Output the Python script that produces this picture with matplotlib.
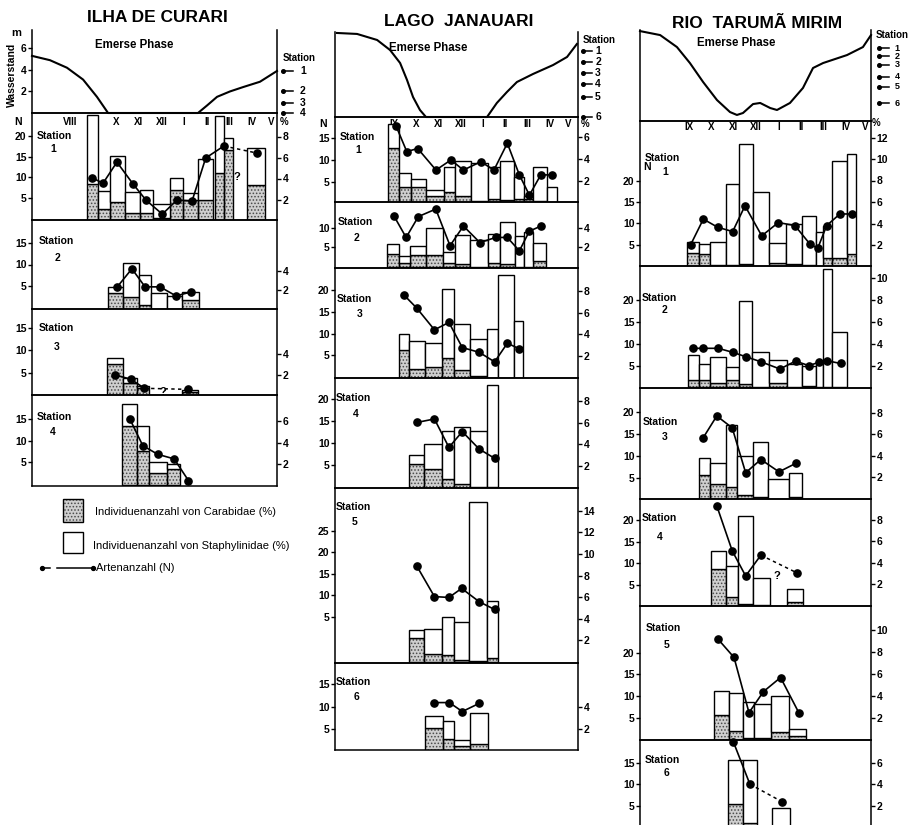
import matplotlib
matplotlib.use("Agg")
import matplotlib.pyplot as plt
from matplotlib.patches import Rectangle
from matplotlib.lines import Line2D
from matplotlib.transforms import blended_transform_factory as blend

plt.rcParams['font.family'] = ['Liberation Sans', 'DejaVu Sans']
plt.rcParams['hatch.linewidth'] = 0.7

# ------------------------------------------------------------------ data
# months counted from August (VIII = 0)
month_names = ['VIII', 'IX', 'X', 'XI', 'XII', 'I', 'II', 'III', 'IV', 'V']

# water level (m) over the season
ic_wl_t = [-1.70, -0.91, -0.16, 0.55, 1.16, 1.65, 5.61, 6.01, 6.45, 7.02, 7.59, 8.34, 9.09]
ic_wl_m = [5.3, 4.9, 4.2, 3.1, 1.5, 0.0, 0.0, 0.7, 1.5, 2.0, 2.4, 2.9, 3.9]
lj_wl_t = [-1.54, -0.64, 0.26, 0.84, 1.29, 1.60, 1.87, 2.18, 2.45,
           5.19, 5.63, 6.08, 6.53, 7.25, 8.15, 8.78, 9.22]
lj_wl_m = [7.78, 7.69, 7.13, 6.2, 5.0, 3.43, 1.85, 0.65, 0.0,
           0.0, 1.3, 2.31, 3.24, 3.98, 4.81, 5.56, 6.76]
rt_wl_t = [-1.19, -0.29, 0.46, 1.04, 1.63, 2.25, 2.83, 3.14, 3.41, 3.86, 4.18,
           4.63, 4.93, 5.51, 6.09, 6.54, 6.99, 8.06, 8.77, 9.13]
rt_wl_m = [8.33, 7.96, 6.85, 5.37, 3.61, 1.94, 0.83, 0.56, 0.74, 1.57, 1.67,
           1.2, 1.02, 1.67, 3.06, 4.91, 5.37, 6.11, 6.85, 7.96]

# elevation of the sampling stations (m on the water-level scale)
ic_levels = [3.9, 2.0, 0.9, 0.0]
lj_levels = [6.1, 5.1, 4.1, 3.1, 1.85, 0.0]
rt_levels = [6.75, 6.0, 5.2, 4.1, 3.15, 1.65]

# ---- Ilha de Curari
ic1_t = [0.96, 1.47, 2.07, 2.73, 3.34, 4.00, 4.67, 5.28, 5.94, 6.56, 6.96, 8.17]
ic1_w = [0.48, 0.53, 0.66, 0.66, 0.57, 0.75, 0.57, 0.66, 0.66, 0.40, 0.40, 0.79]
ic1_car = [3.5, 1.1, 1.8, 0.7, 0.7, 0.2, 2.9, 2.0, 2.0, 4.5, 6.7, 3.4]
ic1_sta = [6.5, 1.7, 4.3, 2.0, 2.2, 1.4, 1.1, 0.6, 3.9, 5.5, 1.2, 3.5]
ic1_lt = [0.94, 1.43, 2.04, 2.75, 3.32, 4.04, 4.68, 5.35, 5.95, 6.75, 8.20]
ic1_n = [9.9, 8.6, 13.7, 8.4, 4.5, 1.1, 4.5, 4.3, 14.7, 17.6, 15.9]

ic2_t = [1.98, 2.66, 3.28, 3.89, 4.58, 5.28]
ic2_w = [0.66, 0.70, 0.53, 0.70, 0.66, 0.75]
ic2_car = [1.7, 1.25, 0.4, 0.0, 0.0, 0.9]
ic2_sta = [0.6, 3.55, 3.1, 1.7, 1.4, 0.9]
ic2_lt = [2.04, 2.70, 3.28, 3.94, 4.64, 5.30]
ic2_n = [4.7, 9.0, 4.8, 4.8, 2.7, 3.6]

ic3_t = [1.96, 2.62, 3.19, 5.26]
ic3_w = [0.70, 0.62, 0.53, 0.70]
ic3_car = [3.1, 1.2, 0.75, 0.3]
ic3_sta = [0.55, 0.5, 0.15, 0.2]
ic3_lt = [1.96, 2.65, 3.25, 5.19]
ic3_n = [4.45, 3.5, 1.45, 1.2]

ic4_t = [2.59, 3.19, 3.85, 4.53]
ic4_w = [0.66, 0.53, 0.79, 0.57]
ic4_car = [5.6, 3.2, 1.1, 1.5]
ic4_sta = [2.0, 2.4, 1.1, 0.5]
ic4_lt = [2.62, 3.18, 3.84, 4.56, 5.19]
ic4_n = [14.9, 8.85, 6.85, 5.8, 0.8]

# ---- Lago Janauari
lj1_t = [1.00, 1.51, 2.12, 2.86, 3.51, 4.11, 4.85, 5.50, 6.09, 6.62, 7.05, 7.57, 8.10]
lj1_w = [0.49, 0.54, 0.67, 0.81, 0.49, 0.72, 0.76, 0.54, 0.63, 0.45, 0.40, 0.63, 0.45]
lj1_car = [5.0, 1.5, 1.5, 0.6, 1.0, 0.6, 0.2, 0.4, 0.3, 0.4, 0.4, 0.2, 0.0]
lj1_sta = [2.2, 1.2, 0.7, 0.6, 2.3, 3.2, 3.4, 2.9, 3.5, 2.0, 0.2, 3.1, 1.5]
lj1_lt = [1.11, 1.59, 2.08, 2.90, 3.57, 4.13, 4.91, 5.50, 6.10, 6.64, 7.09, 7.60, 8.12]
lj1_n = [17.6, 11.8, 12.5, 7.6, 9.9, 7.6, 9.5, 7.6, 13.7, 6.5, 1.9, 6.5, 6.5]

lj2_t = [0.97, 1.49, 2.09, 2.83, 3.48, 4.09, 4.83, 5.50, 6.11, 6.65, 7.05, 7.54]
lj2_w = [0.54, 0.49, 0.72, 0.76, 0.54, 0.67, 0.81, 0.54, 0.67, 0.40, 0.40, 0.58]
lj2_car = [1.3, 0.4, 1.2, 1.2, 0.4, 0.3, 0.0, 0.4, 0.3, 0.0, 0.0, 0.6]
lj2_sta = [1.0, 0.7, 0.9, 2.8, 1.1, 3.0, 2.8, 3.0, 4.3, 3.2, 3.6, 1.8]
lj2_lt = [1.02, 1.56, 2.11, 2.89, 3.53, 4.13, 4.87, 5.58, 6.10, 6.64, 7.09, 7.61]
lj2_n = [12.9, 7.5, 12.8, 14.7, 5.4, 10.4, 6.2, 7.5, 7.5, 4.1, 9.1, 10.4]

lj3_t = [1.47, 2.05, 2.79, 3.44, 4.07, 4.81, 5.43, 6.04, 6.60]
lj3_w = [0.45, 0.72, 0.76, 0.54, 0.72, 0.76, 0.49, 0.72, 0.40]
lj3_car = [2.6, 0.8, 1.0, 1.8, 0.7, 0.2, 0.0, 0.0, 0.0]
lj3_sta = [1.4, 2.6, 2.2, 6.4, 4.3, 3.4, 4.5, 9.45, 5.2]
lj3_lt = [1.47, 2.04, 2.83, 3.48, 4.08, 4.84, 5.53, 6.10, 6.64]
lj3_n = [18.9, 15.9, 10.9, 12.6, 6.8, 5.7, 3.5, 7.8, 6.5]

lj4_t = [2.02, 2.77, 3.44, 4.07, 4.81, 5.43]
lj4_w = [0.67, 0.81, 0.54, 0.72, 0.76, 0.49]
lj4_car = [2.2, 1.7, 0.8, 0.4, 0.1, 0.1]
lj4_sta = [0.8, 2.3, 4.4, 5.2, 5.1, 9.35]
lj4_lt = [2.04, 2.83, 3.48, 4.08, 4.84, 5.53]
lj4_n = [14.7, 15.5, 9.0, 12.6, 8.6, 6.5]

lj5_t = [2.02, 2.77, 3.44, 4.04, 4.78, 5.43]
lj5_w = [0.67, 0.81, 0.54, 0.67, 0.81, 0.49]
lj5_car = [2.25, 0.75, 0.65, 0.2, 0.1, 0.4]
lj5_sta = [0.75, 2.35, 3.55, 3.5, 14.7, 5.25]
lj5_lt = [2.04, 2.83, 3.48, 4.05, 4.84, 5.53]
lj5_n = [16.8, 9.7, 9.5, 11.6, 8.5, 6.7]

lj6_t = [2.81, 3.46, 4.07, 4.83]
lj6_w = [0.81, 0.49, 0.72, 0.81]
lj6_car = [2.1, 1.1, 0.4, 0.6]
lj6_sta = [1.1, 1.6, 0.6, 2.9]
lj6_lt = [2.83, 3.50, 4.08, 4.83]
lj6_n = [10.9, 10.9, 8.9, 10.7]

# ---- Rio Tarumã Mirim
rt1_t = [1.18, 1.69, 2.29, 2.94, 3.54, 4.21, 4.95, 5.69, 6.36, 6.83, 7.18, 7.72, 8.25]
rt1_w = [0.54, 0.49, 0.71, 0.58, 0.63, 0.71, 0.76, 0.71, 0.63, 0.31, 0.40, 0.67, 0.40]
rt1_car = [1.3, 1.2, 0.1, 0.1, 0.2, 0.0, 0.3, 0.2, 0.1, 0.0, 0.75, 0.75, 1.2]
rt1_sta = [1.0, 0.9, 2.2, 7.6, 11.2, 6.9, 1.9, 3.8, 4.6, 3.2, 3.05, 9.05, 9.3]
rt1_lt = [1.07, 1.64, 2.28, 2.95, 3.50, 4.25, 4.99, 5.73, 6.40, 6.75, 7.15, 7.74, 8.29]
rt1_n = [5.0, 11.0, 9.1, 8.1, 14.1, 7.1, 10.2, 9.5, 5.2, 4.2, 9.5, 12.2, 12.2]

rt2_t = [1.20, 1.69, 2.29, 2.94, 3.52, 4.19, 4.97, 5.71, 6.36, 6.83, 7.18, 7.72]
rt2_w = [0.49, 0.49, 0.71, 0.58, 0.58, 0.76, 0.80, 0.67, 0.63, 0.31, 0.40, 0.67]
rt2_car = [0.7, 0.7, 0.45, 0.7, 0.3, 0.0, 0.4, 0.0, 0.1, 0.0, 0.0, 0.0]
rt2_sta = [2.3, 1.5, 2.35, 1.15, 7.6, 3.3, 2.1, 2.2, 1.9, 2.2, 10.9, 5.1]
rt2_lt = [1.17, 1.61, 2.31, 2.98, 3.53, 4.21, 5.06, 5.76, 6.36, 6.80, 7.15, 7.77]
rt2_n = [8.95, 8.95, 8.95, 8.0, 7.05, 5.9, 4.25, 6.05, 5.0, 5.8, 6.15, 5.5]

rt3_t = [1.69, 2.29, 2.90, 3.50, 4.19, 5.00, 5.75]
rt3_w = [0.49, 0.71, 0.49, 0.71, 0.67, 0.94, 0.58]
rt3_car = [2.2, 1.4, 1.05, 0.3, 0.1, 0.0, 0.1]
rt3_sta = [1.6, 1.95, 5.85, 3.7, 5.15, 1.8, 2.3]
rt3_lt = [1.64, 2.24, 2.93, 3.53, 4.21, 5.02, 5.76]
rt3_n = [14.2, 19.1, 16.4, 6.2, 9.2, 6.4, 8.3]

rt4_t = [2.32, 2.92, 3.52, 4.24, 5.73]
rt4_w = [0.67, 0.54, 0.67, 0.76, 0.71]
rt4_car = [3.4, 0.8, 0.2, 0.1, 0.4]
rt4_sta = [1.7, 2.9, 8.1, 2.5, 1.2]
rt4_lt = [2.24, 2.93, 3.53, 4.21, 5.81]
rt4_n = [23.3, 12.9, 7.1, 11.9, 7.85]

rt5_t = [2.45, 3.10, 3.66, 4.28, 5.06, 5.84]
rt5_w = [0.67, 0.63, 0.49, 0.76, 0.80, 0.76]
rt5_car = [2.2, 0.75, 0.1, 0.1, 0.7, 0.3]
rt5_sta = [2.2, 3.45, 3.3, 3.1, 3.3, 0.7]
rt5_lt = [2.31, 3.01, 3.68, 4.32, 5.09, 5.92]
rt5_n = [23.0, 18.9, 6.25, 11.05, 14.3, 6.1]

rt6_t = [3.08, 3.72, 5.11]
rt6_w = [0.67, 0.63, 0.80]
rt6_car = [2.2, 0.4, 0.0]
rt6_sta = [4.05, 5.85, 1.8]
rt6_lt = [2.98, 3.72, 5.14]
rt6_n = [19.8, 10.0, 6.0]

# ------------------------------------------------------------------ figure
W, H = 911, 825
fig = plt.figure(figsize=(W / 100, H / 100), dpi=100)
fig.patch.set_facecolor('white')

STIP_FC = '#cfcfcf'
STIP_EC = '#4a4a4a'
LW = 1.1
TXT = dict(fontweight='bold', color='black')


def add_ax(l, t, r, b):
    return fig.add_axes([l / W, 1 - b / H, (r - l) / W, (b - t) / H])


def ftext(x, y, s, **kw):
    opts = dict(TXT)
    opts.update(kw)
    return fig.text(x / W, 1 - y / H, s, **opts)


COLS = {
    'ic': dict(left=32, right=277, xlim=(-1.70, 9.09)),
    'lj': dict(left=335, right=578, xlim=(-1.63, 9.27)),
    'rt': dict(left=640, right=871, xlim=(-1.19, 9.13)),
}


def water_panel(col, top, bottom, ymax, wt, wm, levels, arrow_px, st_xy,
                left_ticks=False, num_size=7.5):
    c = COLS[col]
    ax = add_ax(c['left'], top, c['right'], bottom)
    ax.set_xlim(*c['xlim'])
    ax.set_ylim(0, ymax)
    ax.plot(wt, wm, color='black', lw=1.5, clip_on=False)
    ax.spines['top'].set_visible(False)
    for s in ('left', 'right', 'bottom'):
        ax.spines[s].set_linewidth(LW)
    ax.set_xticks([])
    if left_ticks:
        ax.set_yticks([2, 4, 6])
        ax.tick_params(axis='y', direction='out', length=3, width=1, pad=1,
                       labelsize=7.5)
        for lab in ax.get_yticklabels():
            lab.set_fontweight('bold')
    else:
        ax.set_yticks([])
    wpx = c['right'] - c['left']
    tr = blend(ax.transAxes, ax.transData)
    d0, d1, dn = arrow_px
    for i, lv in enumerate(levels):
        ax.add_line(Line2D([1 + d0 / wpx, 1 + d1 / wpx], [lv, lv], transform=tr,
                           color='black', lw=1.1, clip_on=False))
        ax.plot([1 + d0 / wpx], [lv], 'o', ms=2.6, color='black', transform=tr,
                clip_on=False)
        ax.text(1 + dn / wpx, lv, str(i + 1), transform=tr, ha='center',
                va='center', fontsize=num_size, clip_on=False, **TXT)
    ftext(st_xy[0], st_xy[1], 'Station', fontsize=7, ha='left', va='center')
    return ax


def station_panel(col, top, bottom, n_zero, n_px, p_zero, p_px, n_ticks, p_ticks,
                  bt, bw, car, sta, lt, ln, num, lab_xy, dashed_tail=False,
                  q_xy=None, month_y=None, first_month=0):
    c = COLS[col]
    ax = add_ax(c['left'], top, c['right'], bottom)
    axp = ax.twinx()
    ax.set_zorder(axp.get_zorder() + 1)
    ax.patch.set_visible(False)
    for a in (ax, axp):
        a.set_xlim(*c['xlim'])
        a.set_xticks([])
    ax.set_ylim((n_zero - bottom) / n_px, (n_zero - top) / n_px)
    axp.set_ylim((p_zero - bottom) / p_px, (p_zero - top) / p_px)
    for s in ax.spines.values():
        s.set_linewidth(LW)
    for s in axp.spines.values():
        s.set_visible(False)
    ax.spines['right'].set_visible(True)

    # month names along the top of the first panel of each column
    if month_y is not None:
        trm = blend(axp.transData, axp.transAxes)
        yfrac = (bottom - month_y) / (bottom - top)
        for i, m in enumerate(month_names):
            if i < first_month:
                continue
            xpos = min(i, 8.85)
            axp.text(xpos, yfrac, m, transform=trm, ha='center', va='center',
                     fontsize=7, zorder=1, **TXT)

    # stacked bars: Carabidae (stippled) below, Staphylinidae (open) above
    axp.bar(bt, car, width=bw, bottom=0, facecolor=STIP_FC, edgecolor=STIP_EC,
            hatch='.....', lw=0, zorder=2)
    axp.bar(bt, car, width=bw, bottom=0, fill=False, edgecolor='black',
            lw=1.0, zorder=3)
    axp.bar(bt, sta, width=bw, bottom=car, facecolor='white', edgecolor='black',
            lw=1.0, zorder=3)

    # species number
    if dashed_tail:
        ax.plot(lt[:-1], ln[:-1], '-o', color='black', lw=1.2, ms=5.2,
                zorder=5, clip_on=False)
        ax.plot(lt[-2:], ln[-2:], color='black', lw=1.1, ls=(0, (2.2, 2.2)),
                zorder=5)
        ax.plot(lt[-1:], ln[-1:], 'o', color='black', ms=5.2, zorder=5,
                clip_on=False)
    else:
        ax.plot(lt, ln, '-o', color='black', lw=1.2, ms=5.2, zorder=5,
                clip_on=False)
    if q_xy is not None:
        ax.text(q_xy[0], q_xy[1], '?', ha='center', va='center', fontsize=8,
                zorder=6, **TXT)

    ax.set_yticks(n_ticks)
    axp.set_yticks(p_ticks)
    for a in (ax, axp):
        a.tick_params(axis='y', direction='out', length=3, width=1, pad=1,
                      labelsize=7.5)
        for lab in a.get_yticklabels():
            lab.set_fontweight('bold')

    sx, sy, nx, ny = lab_xy
    ftext(sx, sy, 'Station', fontsize=7.5, ha='left', va='center')
    ftext(nx, ny, str(num), fontsize=7.5, ha='center', va='center')
    return ax, axp


# ------------------------------------------------------------ titles
ftext(157, 18, 'ILHA DE CURARI', fontsize=12.5, ha='center', va='center')
ftext(459, 22, 'LAGO  JANAUARI', fontsize=12.5, ha='center', va='center')
ftext(757, 23, 'RIO  TARUMÃ MIRIM', fontsize=12.5, ha='center', va='center')

# ------------------------------------------------------------ water level
water_panel('ic', 30, 113, 7.7, ic_wl_t, ic_wl_m, ic_levels, (6, 16, 26),
            (283, 58), left_ticks=True, num_size=7.5)
water_panel('lj', 32, 117, 7.87, lj_wl_t, lj_wl_m, lj_levels, (5, 14, 20),
            (583, 40), num_size=7.5)
water_panel('rt', 30, 121, 8.43, rt_wl_t, rt_wl_m, rt_levels, (8, 18, 26),
            (876, 35), num_size=6.5)
ftext(134, 45, 'Emerse Phase', fontsize=8.3, ha='center', va='center')
ftext(428, 48, 'Emerse Phase', fontsize=8.3, ha='center', va='center')
ftext(736, 43, 'Emerse Phase', fontsize=8.3, ha='center', va='center')
ftext(16, 33, 'm', fontsize=8, ha='center', va='center')
ftext(12, 75, 'Wasserstand', fontsize=7.5, ha='center', va='center', rotation=90)

# ------------------------------------------------------------ Ilha de Curari
station_panel('ic', 113, 220, 218.7, 4.13, 220.5, 10.5, [5, 10, 15, 20], [2, 4, 6, 8],
              ic1_t, ic1_w, ic1_car, ic1_sta, ic1_lt, ic1_n, 1, (37, 136, 53, 149),
              dashed_tail=True, q_xy=(7.33, 10.1), month_y=122, first_month=0)
station_panel('ic', 220, 309, 307.5, 4.3, 309, 9.6, [5, 10, 15], [2, 4],
              ic2_t, ic2_w, ic2_car, ic2_sta, ic2_lt, ic2_n, 2, (39, 241, 57, 258))
station_panel('ic', 309, 395, 394.7, 4.43, 395.5, 10.3, [5, 10, 15], [2, 4],
              ic3_t, ic3_w, ic3_car, ic3_sta, ic3_lt, ic3_n, 3, (39, 328, 57, 347),
              dashed_tail=True, q_xy=(4.07, 0.7))
station_panel('ic', 395, 486, 484, 4.33, 485, 10.6, [5, 10, 15], [2, 4, 6],
              ic4_t, ic4_w, ic4_car, ic4_sta, ic4_lt, ic4_n, 4, (37, 417, 53, 432))
ftext(18, 122, 'N', fontsize=7.5, ha='center', va='center')
ftext(280, 122, '%', fontsize=7, ha='left', va='center')

# ------------------------------------------------------------ Lago Janauari
station_panel('lj', 117, 202, 203.5, 4.4, 203, 11, [5, 10, 15], [2, 4, 6],
              lj1_t, lj1_w, lj1_car, lj1_sta, lj1_lt, lj1_n, 1, (340, 137, 358, 150),
              month_y=124, first_month=1)
station_panel('lj', 202, 268, 267, 3.94, 267, 9.8, [5, 10], [2, 4],
              lj2_t, lj2_w, lj2_car, lj2_sta, lj2_lt, lj2_n, 2, (338, 222, 357, 238))
station_panel('lj', 268, 378, 377, 4.33, 378, 10.9, [5, 10, 15, 20], [2, 4, 6, 8],
              lj3_t, lj3_w, lj3_car, lj3_sta, lj3_lt, lj3_n, 3, (337, 299, 360, 314))
station_panel('lj', 378, 488, 486.7, 4.37, 488, 10.9, [5, 10, 15, 20], [2, 4, 6, 8],
              lj4_t, lj4_w, lj4_car, lj4_sta, lj4_lt, lj4_n, 4, (336, 398, 356, 414))
station_panel('lj', 488, 663, 638.3, 4.3, 662, 10.8, [5, 10, 15, 20, 25],
              [2, 4, 6, 8, 10, 12, 14],
              lj5_t, lj5_w, lj5_car, lj5_sta, lj5_lt, lj5_n, 5, (336, 507, 355, 522))
station_panel('lj', 663, 750, 751.3, 4.47, 750.5, 10.85, [5, 10, 15], [2, 4],
              lj6_t, lj6_w, lj6_car, lj6_sta, lj6_lt, lj6_n, 6, (336, 682, 357, 697))
ftext(323, 124, 'N', fontsize=7.5, ha='center', va='center')
ftext(581, 124, '%', fontsize=7, ha='left', va='center')

# ------------------------------------------------------------ Rio Tarumã Mirim
station_panel('rt', 121, 266, 266.3, 4.29, 266.5, 10.75, [5, 10, 15, 20],
              [2, 4, 6, 8, 10, 12],
              rt1_t, rt1_w, rt1_car, rt1_sta, rt1_lt, rt1_n, 1, (645, 158, 665, 172),
              month_y=127, first_month=1)
station_panel('rt', 266, 388, 387.7, 4.4, 387.5, 10.9, [5, 10, 15, 20], [2, 4, 6, 8, 10],
              rt2_t, rt2_w, rt2_car, rt2_sta, rt2_lt, rt2_n, 2, (642, 298, 665, 310))
station_panel('rt', 388, 499, 500, 4.4, 498.5, 10.7, [5, 10, 15, 20], [2, 4, 6, 8],
              rt3_t, rt3_w, rt3_car, rt3_sta, rt3_lt, rt3_n, 3, (643, 422, 665, 437))
station_panel('rt', 499, 606, 606.7, 4.33, 606, 10.8, [5, 10, 15, 20], [2, 4, 6, 8],
              rt4_t, rt4_w, rt4_car, rt4_sta, rt4_lt, rt4_n, 4, (642, 518, 660, 537),
              dashed_tail=True, q_xy=(4.93, 7.1))
station_panel('rt', 606, 740, 740, 4.37, 739.5, 11, [5, 10, 15, 20], [2, 4, 6, 8, 10],
              rt5_t, rt5_w, rt5_car, rt5_sta, rt5_lt, rt5_n, 5, (646, 628, 667, 645))
station_panel('rt', 740, 828, 827.5, 4.33, 827.5, 10.8, [5, 10, 15], [2, 4, 6],
              rt6_t, rt6_w, rt6_car, rt6_sta, rt6_lt, rt6_n, 6, (645, 760, 666, 773),
              dashed_tail=True)
ftext(647, 167, 'N', fontsize=7.5, ha='center', va='center')
ftext(872, 123, '%', fontsize=7, ha='left', va='center')

# ------------------------------------------------------------ legend
def fig_rect(l, t, r, b, **kw):
    rect = Rectangle((l / W, 1 - b / H), (r - l) / W, (b - t) / H,
                     transform=fig.transFigure, **kw)
    fig.add_artist(rect)


fig_rect(63, 499, 83, 522, facecolor=STIP_FC, edgecolor=STIP_EC, hatch='.....', lw=0)
fig_rect(63, 499, 83, 522, fill=False, edgecolor='black', lw=1.0)
fig_rect(63, 532, 83, 553, facecolor='white', edgecolor='black', lw=1.0)
ftext(95, 512, 'Individuenanzahl von Carabidae (%)', fontsize=8, ha='left',
      va='center', fontweight='normal')
ftext(93, 546, 'Individuenanzahl von Staphylinidae (%)', fontsize=8, ha='left',
      va='center', fontweight='normal')
yl = 1 - 568 / H
fig.add_artist(Line2D([42 / W, 50 / W], [yl, yl], transform=fig.transFigure,
                      color='black', lw=1.1, marker='o', ms=2.8, markevery=[0]))
fig.add_artist(Line2D([57 / W, 93 / W], [yl, yl], transform=fig.transFigure,
                      color='black', lw=1.1, marker='o', ms=2.8, markevery=[1]))
ftext(96, 568, 'Artenanzahl (N)', fontsize=8, ha='left', va='center',
      fontweight='normal')

fig.savefig('out.png', dpi=100, facecolor='white')
